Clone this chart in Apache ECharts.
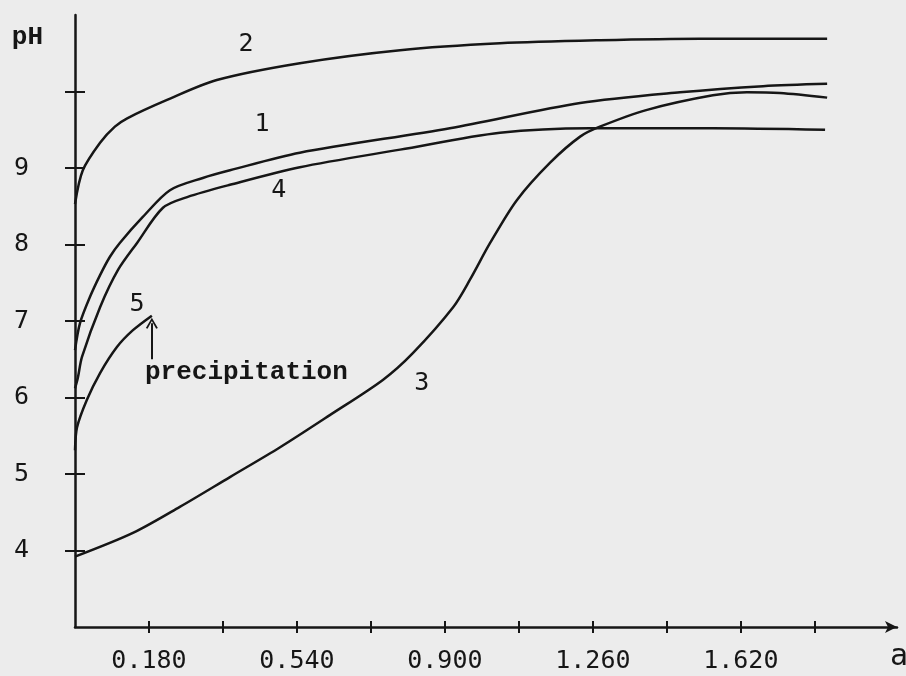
<!DOCTYPE html>
<html>
<head>
<meta charset="utf-8">
<script src="https://cdn.jsdelivr.net/npm/echarts@6/dist/echarts.min.js"></script>
<style>
html,body{margin:0;padding:0;background:#ececec;}
#c{width:906px;height:676px;}
</style>
</head>
<body>
<div id="c"></div>
<script>
// ---- data (a, pH) ----
const curve1 = [[0,6.62],[0.012,6.97],[0.036,7.31],[0.061,7.60],[0.085,7.84],[0.109,8.02],[0.165,8.36],[0.231,8.71],[0.311,8.87],[0.377,8.97],[0.547,9.20],[0.912,9.52],[1.229,9.85],[1.472,9.99],[1.674,10.07],[1.830,10.10]];
const curve2 = [[0,8.53],[0.019,8.97],[0.061,9.33],[0.097,9.54],[0.127,9.65],[0.224,9.89],[0.345,10.15],[0.547,10.37],[0.791,10.54],[1.034,10.63],[1.277,10.67],[1.521,10.69],[1.830,10.69]];
const curve3 = [[0,3.92],[0.141,4.23],[0.255,4.57],[0.377,4.96],[0.499,5.35],[0.620,5.77],[0.749,6.23],[0.822,6.58],[0.920,7.18],[0.961,7.54],[1.010,8.02],[1.075,8.58],[1.156,9.07],[1.229,9.41],[1.277,9.54],[1.392,9.76],[1.552,9.95],[1.635,9.99],[1.715,9.98],[1.830,9.92]];
const curve4 = [[0,6.12],[0.007,6.26],[0.017,6.53],[0.061,7.18],[0.105,7.67],[0.151,8.02],[0.214,8.48],[0.273,8.62],[0.377,8.78],[0.547,9.01],[0.791,9.24],[1.034,9.46],[1.253,9.52],[1.552,9.52],[1.825,9.50]];
const curve5 = [[0,5.31],[0.005,5.61],[0.029,5.97],[0.061,6.32],[0.102,6.66],[0.141,6.88],[0.187,7.07]];
const xTickValues = [0.18,0.36,0.54,0.72,0.90,1.08,1.26,1.44,1.62,1.80];
const xLabelValues = [0.18,0.54,0.90,1.26,1.62];
const yTickValues = [4,5,6,7,8,9,10];
const yLabelValues = [4,5,6,7,8,9];
const curveLabels = [
  {name:'1', value:[0.455,9.575]},
  {name:'2', value:[0.416,10.62]},
  {name:'3', value:[0.844,6.18]},
  {name:'4', value:[0.496,8.70]},
  {name:'5', value:[0.151,7.21]}
];
const noteText = {name:'precipitation', value:[0.417,6.333]};
const arrowFrom = [0.187,6.50];
const arrowTo = [0.187,6.97];

const INK = '#161616';
const numFont = {fontFamily:'DejaVu Sans Mono', fontSize:25, color:INK};
const chart = echarts.init(document.getElementById('c'), null, {renderer:'canvas'});

function lineSeries(name, data){
  return {name:name, type:'line', data:data, showSymbol:false, smooth:0.3,
    lineStyle:{color:INK, width:2.5}, silent:true, animation:false, z:3};
}

const s5 = lineSeries('5', curve5);
s5.markLine = {
  silent:true, animation:false,
  symbol:['none','path://M0,9 L5,0 L10,9 L8.6,9.6 L5,2.8 L1.4,9.6 Z'],
  symbolSize:[12,11],
  lineStyle:{color:INK, width:2, type:'solid'},
  label:{show:false},
  data:[[{coord:arrowFrom},{coord:arrowTo}]]
};

const option = {
  backgroundColor:'#ececec',
  animation:false,
  grid:{left:75, right:9, top:15, bottom:49, containLabel:false, outerBoundsMode:'none'},
  xAxis:[{
    type:'value', min:0, max:2.0,
    name:'a', nameLocation:'end', nameGap:-7,
    nameTextStyle:{fontFamily:'DejaVu Sans Mono', fontSize:30, lineHeight:60, color:INK, align:'left', verticalAlign:'top'},
    axisLine:{show:true, onZero:false, symbol:['none','arrow'], symbolSize:[9,12], lineStyle:{color:INK, width:2.5}},
    axisTick:{show:true, customValues:xTickValues, length:6, inside:false, lineStyle:{color:INK, width:2}},
    axisLabel:{show:true, customValues:xLabelValues, margin:22, formatter:v=>v.toFixed(3), ...numFont},
    splitLine:{show:false}
  },{
    type:'value', min:0, max:2.0, position:'bottom',
    axisLine:{show:false},
    axisTick:{show:true, customValues:xTickValues, length:6, inside:true, lineStyle:{color:INK, width:2}},
    axisLabel:{show:false}, splitLine:{show:false}
  }],
  yAxis:[{
    type:'value', min:3, max:11,
    name:'pH', nameLocation:'end', nameGap:-22,
    nameTextStyle:{fontFamily:'Liberation Mono', fontWeight:'bold', fontSize:26, color:INK, align:'right', verticalAlign:'middle', padding:[0,32,0,0]},
    axisLine:{show:true, onZero:false, lineStyle:{color:INK, width:2.5}},
    axisTick:{show:true, customValues:yTickValues, length:10, inside:false, lineStyle:{color:INK, width:2}},
    axisLabel:{show:true, customValues:yLabelValues, margin:46, ...numFont},
    splitLine:{show:false}
  },{
    type:'value', min:3, max:11, position:'left', offset:0,
    axisLine:{show:false},
    axisTick:{show:true, customValues:yTickValues, length:10, inside:true, lineStyle:{color:INK, width:2}},
    axisLabel:{show:false}, splitLine:{show:false}
  }],
  series:[
    lineSeries('1', curve1),
    lineSeries('2', curve2),
    lineSeries('3', curve3),
    lineSeries('4', curve4),
    s5,
    {
      type:'scatter', silent:true, animation:false, symbolSize:0, z:5,
      itemStyle:{opacity:1, color:INK},
      data: curveLabels.map(d=>({name:d.name, value:d.value})),
      label:{show:true, position:'inside', formatter:'{b}', opacity:1, ...numFont}
    },
    {
      type:'scatter', silent:true, animation:false, symbolSize:0, z:5,
      itemStyle:{opacity:1, color:INK},
      data:[{name:noteText.name, value:noteText.value}],
      label:{show:true, position:'inside', formatter:'{b}', opacity:1, fontFamily:'Liberation Mono', fontWeight:'bold', fontSize:26, color:INK}
    }
  ]
};
chart.setOption(option);
</script>
</body>
</html>
